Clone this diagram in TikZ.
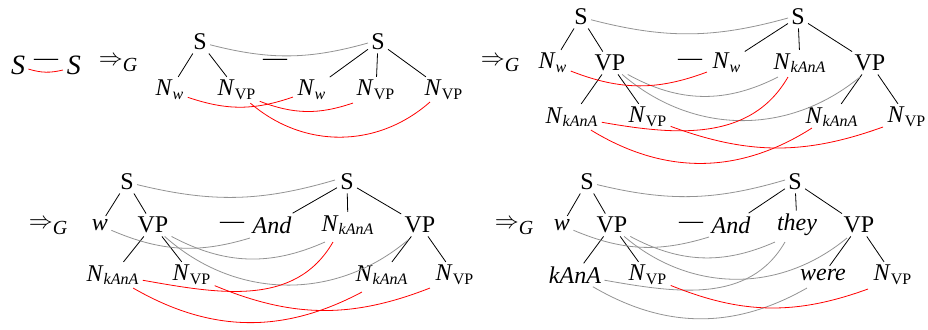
\documentclass[tikz,border=0pt]{standalone}
\usepackage{amsmath}
\usepackage{fontspec}
\setmainfont{Liberation Serif}
\usepackage{tikz}
\usetikzlibrary{arrows}

\newcommand{\nt}[1]{\textit{N}$_{#1}$}
\newcommand{\yields}{{\fontsize{12}{14}\selectfont$\Rightarrow$}\raisebox{-0.6ex}{\fontsize{10}{12}\selectfont\textit{G}}}

\begin{document}
\begin{tikzpicture}[x=0.5pt,y=0.5pt,font=\fontsize{12}{14}\selectfont,inner sep=1.5pt,
  redlink/.style={red,thin}, greylink/.style={gray!85,thin}]
\useasboundingbox (0,0) rectangle (928,-329);

\node (ls1) at (18,-65) {\fontsize{14}{16}\selectfont\textit{S}}; \node (ldash) at (46,-62) {---}; \node (ls2) at (74,-65) {\fontsize{14}{16}\selectfont\textit{S}};
\draw [redlink] ([shift={(12,-5)}]ls1) to[bend right=15] ([shift={(-11,-5)}]ls2);
\node (y1) at (118,-64) {\yields};

\node (a-S1) at (200,-42) {S}; \node (a-nw1) at (170,-90) {\nt{\textit{w}}}; \node (a-nvp1) at (237,-90) {\nt{\textrm{VP}}};
\node (a-dash) at (275,-62) {---};
\node (a-S2) at (378,-42) {S}; \node (a-nw2) at (312,-90) {\nt{\textit{w}}}; \node (a-nvp2) at (376,-90) {\nt{\textrm{VP}}}; \node (a-nvp3) at (444,-90) {\nt{\textrm{VP}}};
\draw (a-S1) -- (a-nw1); \draw (a-S1) -- (a-nvp1);
\draw (a-S2) -- (a-nw2); \draw (a-S2) -- (a-nvp2); \draw (a-S2) -- (a-nvp3);
\draw [greylink] ([shift={(12,-1)}]a-S1) to[bend right=15] ([shift={(-10,-1)}]a-S2);
\draw [redlink] ([shift={(20,-8)}]a-nw1) to[bend right=19] ([shift={(-19,-7)}]a-nw2);
\draw [redlink] ([shift={(18,-13)}]a-nvp1) to[bend right=20] ([shift={(-23,-13)}]a-nvp2);
\draw [redlink] ([shift={(11,-13)}]a-nvp1) to[bend right=41] ([shift={(-14,-12)}]a-nvp3);

\node (y2) at (500,-64) {\yields};
\node (b-S1) at (581,-17) {S}; \node (b-nw1) at (553,-63) {\nt{\textit{w}}}; \node (b-vp1) at (610,-63) {VP};
\node (b-nk1) at (572,-117) {\nt{\textit{kAnA}}}; \node (b-nvp1) at (648,-117) {\nt{\textrm{VP}}};
\node (b-dash) at (690,-62) {---}; \node (b-nw2) at (727,-63) {\nt{\textit{w}}};
\node (b-S2) at (798,-17) {S}; \node (b-nk2) at (800,-63) {\nt{\textit{kAnA}}}; \node (b-vp2) at (870,-63) {VP};
\node (b-nk3) at (832,-117) {\nt{\textit{kAnA}}}; \node (b-nvp2) at (907,-117) {\nt{\textrm{VP}}};
\draw (b-S1) -- (b-nw1); \draw (b-S1) -- (b-vp1); \draw (b-vp1) -- (b-nk1); \draw (b-vp1) -- (b-nvp1);
\draw (b-S2) -- (b-nw2); \draw (b-S2) -- (b-nk2); \draw (b-S2) -- (b-vp2); \draw (b-vp2) -- (b-nk3); \draw (b-vp2) -- (b-nvp2);
\draw [greylink] ([shift={(11,0)}]b-S1) to[bend right=15] ([shift={(-10,-1)}]b-S2);
\draw [greylink] ([shift={(15,-12)}]b-vp1) to[bend right=28] ([shift={(-22,-14)}]b-nk2);
\draw [greylink] ([shift={(13,-15)}]b-vp1) to[bend right=40] ([shift={(-10,-14)}]b-vp2);
\draw [redlink] ([shift={(21,-9)}]b-nw1) to[bend right=21] ([shift={(-20,-9)}]b-nw2);
\draw [redlink] ([shift={(33,-11)}]b-nk1) to[out=-10,in=-120] ([shift={(-12,-14)}]b-nk2);
\draw [redlink] ([shift={(20,-11)}]b-nk1) to[bend right=32] ([shift={(-20,-11)}]b-nk3);
\draw [redlink] ([shift={(25,-10)}]b-nvp1) to[bend right=20] ([shift={(-24,-10)}]b-nvp2);

\node (y3) at (48,-227) {\yields};
\node (c-S1) at (127,-182) {S}; \node (c-w) at (100,-225) {\textit{w}}; \node (c-vp1) at (153,-225) {VP};
\node (c-nk1) at (113,-275) {\nt{\textit{kAnA}}}; \node (c-nvp1) at (192,-275) {\nt{\textrm{VP}}};
\node (c-dash) at (232,-225) {---}; \node (c-and) at (272,-225) {\textit{And}};
\node (c-S2) at (347,-182) {S}; \node (c-nk2) at (348,-225) {\nt{\textit{kAnA}}}; \node (c-vp2) at (420,-225) {VP};
\node (c-nk3) at (382,-275) {\nt{\textit{kAnA}}}; \node (c-nvp2) at (455,-275) {\nt{\textrm{VP}}};
\draw (c-S1) -- (c-w); \draw (c-S1) -- (c-vp1); \draw (c-vp1) -- (c-nk1); \draw (c-vp1) -- (c-nvp1);
\draw (c-S2) -- (c-and); \draw (c-S2) -- (c-nk2); \draw (c-S2) -- (c-vp2); \draw (c-vp2) -- (c-nk3); \draw (c-vp2) -- (c-nvp2);
\draw [greylink] ([shift={(11,-1)}]c-S1) to[bend right=15] ([shift={(-12,2)}]c-S2);
\draw [greylink] ([shift={(15,-7)}]c-w) to[bend right=20] ([shift={(-22,-13)}]c-and);
\draw [greylink] ([shift={(17,-13)}]c-vp1) to[bend right=26] ([shift={(-23,-17)}]c-nk2);
\draw [greylink] ([shift={(14,-17)}]c-vp1) to[bend right=41] ([shift={(-12,-15)}]c-vp2);
\draw [redlink] ([shift={(34,-13)}]c-nk1) to[out=-10,in=-120] ([shift={(-15,-17)}]c-nk2);
\draw [redlink] ([shift={(20,-13)}]c-nk1) to[bend right=29] ([shift={(-20,-17)}]c-nk3);
\draw [redlink] ([shift={(25,-12)}]c-nvp1) to[bend right=22] ([shift={(-25,-13)}]c-nvp2);

\node (y4) at (514,-227) {\yields};
\node (d-S1) at (587,-182) {S}; \node (d-w) at (562,-225) {\textit{w}}; \node (d-vp1) at (612,-225) {VP};
\node (d-kana) at (575,-275) {\textit{kAnA}}; \node (d-nvp1) at (648,-275) {\nt{\textrm{VP}}};
\node (d-dash) at (691,-225) {---}; \node (d-and) at (731,-225) {\textit{And}};
\node (d-S2) at (795,-182) {S}; \node (d-they) at (797,-225) {\textit{they}}; \node (d-vp2) at (859,-225) {VP};
\node (d-were) at (823,-275) {\textit{were}}; \node (d-nvp2) at (893,-275) {\nt{\textrm{VP}}};
\draw (d-S1) -- (d-w); \draw (d-S1) -- (d-vp1); \draw (d-vp1) -- (d-kana); \draw (d-vp1) -- (d-nvp1);
\draw (d-S2) -- (d-and); \draw (d-S2) -- (d-they); \draw (d-S2) -- (d-vp2); \draw (d-vp2) -- (d-were); \draw (d-vp2) -- (d-nvp2);
\draw [greylink] ([shift={(11,-1)}]d-S1) to[bend right=15] ([shift={(-10,2)}]d-S2);
\draw [greylink] ([shift={(13,-7)}]d-w) to[bend right=20] ([shift={(-22,-12)}]d-and);
\draw [greylink] ([shift={(18,-13)}]d-vp1) to[bend right=26] ([shift={(-22,-17)}]d-they);
\draw [greylink] ([shift={(16,-17)}]d-vp1) to[bend right=40] ([shift={(-12,-13)}]d-vp2);
\draw [greylink] ([shift={(28,-13)}]d-kana) to[out=-10,in=-120] ([shift={(-12,-17)}]d-they);
\draw [greylink] ([shift={(18,-13)}]d-kana) to[bend right=30] ([shift={(-16,-13)}]d-were);
\draw [redlink] ([shift={(27,-12)}]d-nvp1) to[bend right=21] ([shift={(-25,-14)}]d-nvp2);

\end{tikzpicture}
\end{document}
